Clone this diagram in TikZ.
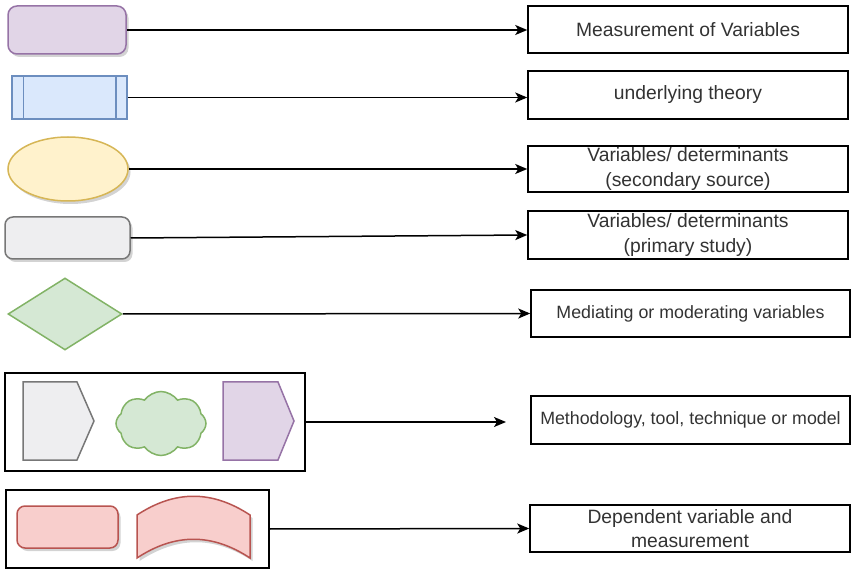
\documentclass[tikz,border=0pt]{standalone}
\usepackage{fontspec}
\setmainfont{Liberation Sans}
\usetikzlibrary{arrows.meta,shapes.geometric,shapes.symbols,shadows}

\definecolor{purpleF}{HTML}{E1D5E7}\definecolor{purpleS}{HTML}{9673A6}
\definecolor{blueF}{HTML}{DAE8FC}\definecolor{blueS}{HTML}{6C8EBF}
\definecolor{yellowF}{HTML}{FFF2CC}\definecolor{yellowS}{HTML}{D6B656}
\definecolor{grayF}{HTML}{EEEEF0}\definecolor{grayS}{HTML}{777777}
\definecolor{greenF}{HTML}{D5E8D4}\definecolor{greenS}{HTML}{82B366}
\definecolor{redF}{HTML}{F8CECC}\definecolor{redS}{HTML}{B85450}
\definecolor{txt}{HTML}{333333}

\tikzset{
  shp/.style={line width=1.5pt, inner sep=0pt},
  shd/.style={drop shadow={shadow xshift=2.5pt, shadow yshift=-3pt, opacity=0.35, fill=gray}},
  legendbox/.style={draw=black, line width=1.5pt, fill=white, inner sep=0pt,
    minimum width=320pt, align=center, text=txt, font=\fontsize{19.3}{24.5}\selectfont},
  groupbox/.style={draw=black, line width=1.5pt, inner sep=0pt},
  link/.style={draw=black, line width=1.5pt,
    -{Stealth[length=12pt, width=10pt, inset=3pt]}},
}

\begin{document}
\begin{tikzpicture}[x=1pt, y=-1pt]
\useasboundingbox (0,0) rectangle (852,569);

% legend symbols, left column
\node[shp, shd, draw=purpleS, fill=purpleF, rounded corners=9pt,
      minimum width=118pt, minimum height=48pt] (meas) at (67,30) {};
\node[shp, draw=blueS, fill=blueF, minimum width=115pt, minimum height=43pt] (theory) at (69.5,97.5) {};
\draw[blueS, line width=1.5pt] ([xshift=12pt]theory.north west) -- ([xshift=12pt]theory.south west)
  ([xshift=-12pt]theory.north east) -- ([xshift=-12pt]theory.south east);
\node[shp, shd, ellipse, draw=yellowS, fill=yellowF, minimum width=120pt, minimum height=64pt] (second) at (68,169) {};
\node[shp, shd, draw=grayS, fill=grayF, rounded corners=8pt,
      minimum width=125pt, minimum height=42pt] (primary) at (67.5,238) {};
\node[shp, diamond, draw=greenS, fill=greenF, aspect=1.58,
      minimum width=114pt, minimum height=72pt] (mediate) at (65,314) {};

% methodology group
\node[groupbox, minimum width=300pt, minimum height=98pt] (method) at (155,422) {};
\draw[shp, draw=grayS, fill=grayF] (23,382) -- (77,382) -- (94,421) -- (77,460) -- (23,460) -- cycle;
\node[shp, cloud, cloud puffs=8, cloud puff arc=110, draw=greenS, fill=greenF,
      minimum width=90pt, minimum height=64pt] (cloudy) at (161,423.5) {};
\draw[shp, draw=purpleS, fill=purpleF] (223,382) -- (278,382) -- (294,421) -- (278,460) -- (223,460) -- cycle;

% dependent variable group
\node[groupbox, minimum width=263pt, minimum height=78pt] (depend) at (137.5,529) {};
\node[shp, shd, draw=redS, fill=redF, rounded corners=8pt,
      minimum width=101pt, minimum height=42pt] (depbox) at (67.5,527) {};
\draw[shp, shd, draw=redS, fill=redF]
  (137,515) .. controls (175,490) and (212,490) .. (250,515)
  -- (250,558) .. controls (212,533) and (175,533) .. (137,558) -- cycle;

% legend descriptions, right column
\node[legendbox, minimum height=47pt] (t1) at (688,29.5) {Measurement of Variables};
\node[legendbox, minimum height=48pt] (t2) at (688,95) {underlying theory};
\node[legendbox, minimum height=46pt] (t3) at (688,169) {Variables/ determinants\\(secondary source)};
\node[legendbox, minimum height=48pt] (t4) at (688,235) {Variables/ determinants\\(primary study)};
\node[legendbox, minimum width=319pt, minimum height=47pt, font=\fontsize{17.8}{21}\selectfont] (t5) at (690.5,313.5) {Mediating or moderating variables};
\node[legendbox, minimum width=319pt, minimum height=48pt, font=\fontsize{17.8}{21}\selectfont] (t6) at (690.5,420) {Methodology, tool, technique or model};
\node[legendbox, minimum height=47pt] (t7) at (690,528.5) {Dependent variable and\\measurement};

% connectors
\coordinate (methodEnd) at (506,422);
\draw[link] (meas.east) -- (t1.west |- meas.east);
\draw[link] (theory.east) -- (t2.west |- theory.east);
\draw[link] (second.east) -- (t3.west |- second.east);
\draw[link] (primary.east) -- (t4.west);
\draw[link] (mediate.east) -- (t5.west);
\draw[link] (method.east) -- (methodEnd);
\draw[link] (depend.east) -- (t7.west);
\end{tikzpicture}
\end{document}
